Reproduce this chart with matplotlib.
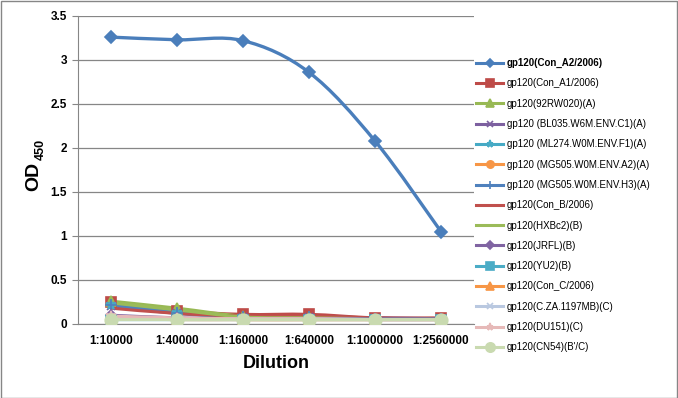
import matplotlib
matplotlib.use("Agg")
import matplotlib.pyplot as plt
from matplotlib.patches import Rectangle, PathPatch
from matplotlib.path import Path
from matplotlib.lines import Line2D

plt.rcParams['font.family'] = ['Liberation Sans', 'DejaVu Sans']

dilutions = ["1:10000", "1:40000", "1:160000", "1:640000", "1:1000000", "1:2560000"]

series_names = [
    "gp120(Con_A2/2006)",
    "gp120(Con_A1/2006)",
    "gp120(92RW020)(A)",
    "gp120 (BL035.W6M.ENV.C1)(A)",
    "gp120 (ML274.W0M.ENV.F1)(A)",
    "gp120 (MG505.W0M.ENV.A2)(A)",
    "gp120 (MG505.W0M.ENV.H3)(A)",
    "gp120(Con_B/2006)",
    "gp120(HXBc2)(B)",
    "gp120(JRFL)(B)",
    "gp120(YU2)(B)",
    "gp120(Con_C/2006)",
    "gp120(C.ZA.1197MB)(C)",
    "gp120(DU151)(C)",
    "gp120(CN54)(B'/C)",
]

con_a2 = [3.26, 3.23, 3.22, 2.86, 2.08, 1.05]
con_a1 = [0.25, 0.15, 0.11, 0.11, 0.07, 0.07]
rw020 = [0.26, 0.18, 0.09, 0.08, 0.06, 0.06]
bl035 = [0.21, 0.12, 0.08, 0.08, 0.07, 0.06]
ml274 = [0.22, 0.13, 0.07, 0.07, 0.06, 0.06]
mg505a2 = [0.07, 0.06, 0.05, 0.05, 0.05, 0.05]
mg505h3 = [0.22, 0.13, 0.08, 0.08, 0.06, 0.06]
con_b = [0.18, 0.12, 0.09, 0.09, 0.07, 0.06]
hxbc2 = [0.24, 0.16, 0.08, 0.07, 0.06, 0.06]
jrfl = [0.10, 0.07, 0.06, 0.06, 0.06, 0.06]
yu2 = [0.05, 0.05, 0.05, 0.05, 0.05, 0.05]
con_c = [0.06, 0.05, 0.05, 0.05, 0.05, 0.05]
cza = [0.07, 0.06, 0.06, 0.06, 0.05, 0.05]
du151 = [0.09, 0.07, 0.06, 0.06, 0.05, 0.05]
cn54 = [0.05, 0.05, 0.05, 0.05, 0.05, 0.05]

values = [con_a2, con_a1, rw020, bl035, ml274, mg505a2, mg505h3, con_b,
          hxbc2, jrfl, yu2, con_c, cza, du151, cn54]

colors = ["#4A7EBB", "#BE4B48", "#98B954", "#7D60A0", "#46AAC5", "#F79646",
          "#4F81BD", "#C0504D", "#9BBB59", "#8064A2", "#4BACC6", "#F79646",
          "#B9C8E0", "#E6B9B8", "#C9DAB0"]
markers = ["D", "s", "^", "x", "*", "o", "+", None, None, "D", "s", "^",
           "x", "*", "o"]
msizes = [6, 7, 7, 6, 7, 7, 8, 0, 0, 5, 7, 7, 6, 7, 9]


def smooth_path(xs, ys):
    """Excel-style smoothed line: cubic Bezier segments through the data points."""
    n = len(xs)
    verts = [(xs[0], ys[0])]
    codes = [Path.MOVETO]
    for i in range(n - 1):
        x0, y0 = (xs[i - 1], ys[i - 1]) if i > 0 else (xs[i], ys[i])
        x1, y1 = xs[i], ys[i]
        x2, y2 = xs[i + 1], ys[i + 1]
        x3, y3 = (xs[i + 2], ys[i + 2]) if i + 2 < n else (x2, y2)
        c1 = (x1 + (x2 - x0) / 6.0, y1 + (y2 - y0) / 6.0)
        c2 = (x2 - (x3 - x1) / 6.0, y2 - (y3 - y1) / 6.0)
        verts += [c1, c2, (x2, y2)]
        codes += [Path.CURVE4] * 3
    return Path(verts, codes)


fig = plt.figure(figsize=(6.78, 3.98), dpi=100)
ax = fig.add_axes([78/678, 1-324/398, (474-78)/678, (324-16)/398])

x = list(range(len(dilutions)))
handles = []
order = list(range(1, len(values))) + [0]
for i in order:
    name, vals, c, m, ms = series_names[i], values[i], colors[i], markers[i], msizes[i]
    lw = 2.4 if i == 0 else 2.2
    z = 5 if i == 0 else 3
    ax.add_patch(PathPatch(smooth_path(x, vals), fill=False, edgecolor=c, lw=lw,
                           zorder=z, capstyle="round", joinstyle="round"))
    if m is not None:
        ax.plot(x, vals, linestyle="none", marker=m, markersize=ms, color=c,
                markeredgecolor=c, markeredgewidth=1.2, zorder=z + 0.5)

for name, c, m, ms in zip(series_names, colors, markers, msizes):
    kw = dict(color=c, lw=2.2, label=name)
    if m is not None:
        kw.update(marker=m, markersize=ms, markeredgecolor=c, markeredgewidth=1.2)
    handles.append(Line2D([], [], **kw))

ax.set_xlim(-0.5, len(dilutions) - 0.5)
ax.set_ylim(0, 3.5)
ax.set_yticks([0, 0.5, 1, 1.5, 2, 2.5, 3, 3.5])
ax.set_yticklabels(["0", "0.5", "1", "1.5", "2", "2.5", "3", "3.5"])
ax.set_xticks(x)
ax.set_xticklabels(dilutions)
for lab in ax.get_xticklabels() + ax.get_yticklabels():
    lab.set_fontweight("bold")
    lab.set_fontsize(8.5)
ax.tick_params(axis='x', length=0, pad=8)
ax.tick_params(axis='y', length=4, color="#868686", direction="out", pad=4)
ax.grid(axis='y', color="#868686", lw=0.9)
ax.set_axisbelow(True)
for s in ["top", "right"]:
    ax.spines[s].set_visible(False)
ax.spines["left"].set_color("#868686")
ax.spines["bottom"].set_color("#868686")

ax.set_xlabel("Dilution", fontsize=13, fontweight="bold", labelpad=6)
# y label: OD with subscript 450 (rotated, subscript above and to the right)
fig.text(34/678, 1-191/398, "OD", rotation=90, fontsize=14, fontweight="bold",
         ha="center", va="bottom")
fig.text(41/678, 1-160/398, "450", rotation=90, fontsize=9, fontweight="bold",
         ha="center", va="bottom")

leg = fig.legend(handles=handles, loc="upper left", bbox_to_anchor=(476/678, 1-58/398),
                 frameon=False, fontsize=7, handlelength=2.8, labelspacing=1.06,
                 handletextpad=0.4, borderaxespad=0, borderpad=0, markerscale=0.75)
leg.get_texts()[0].set_fontweight("bold")

fig.patches.append(Rectangle((0.5/678, 0.5/398), 1-1.5/678, 1-1.5/398,
                             transform=fig.transFigure, fill=False,
                             edgecolor="#868686", lw=1))

fig.savefig("out.png", dpi=100)
